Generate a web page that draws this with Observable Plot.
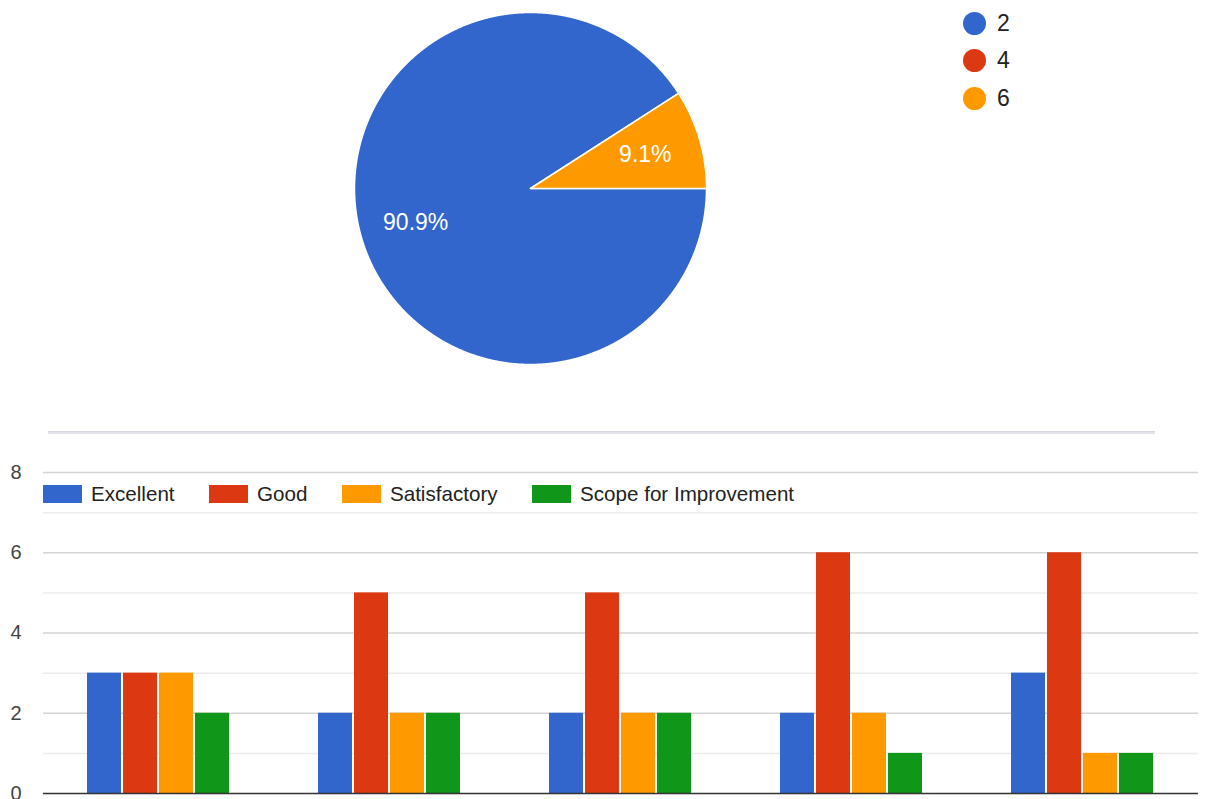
<!DOCTYPE html>
<html><head><meta charset="utf-8">
<script src="https://cdn.jsdelivr.net/npm/d3@7"></script>
<script src="https://cdn.jsdelivr.net/npm/@observablehq/plot@0.6"></script>
<style>
html,body{margin:0;padding:0;background:#fff;width:1213px;height:799px;overflow:hidden;font-family:Arial,"Liberation Sans",sans-serif;}
#pie{position:absolute;left:0;top:0;}
#bars{position:absolute;left:0;top:440px;}
#divider{position:absolute;left:48px;top:431px;width:1107px;height:3px;background:#e3e3ee;border-top:1px solid #d6d6e0;box-sizing:border-box;}
.pl{position:absolute;left:963px;height:24px;display:flex;align-items:center;font-size:23px;color:#222;}
.pl .dot{width:23px;height:23px;border-radius:50%;margin-right:11px;}
#barLegend{position:absolute;left:43px;top:484px;height:19px;display:flex;align-items:center;font-size:20.6px;color:#222;}
#barLegend .it{display:flex;align-items:center;margin-right:34.5px;}
#barLegend .sw{width:39px;height:18px;margin-right:9px;}
</style></head><body>
<div id="pie"></div>
<div id="pieLegend"></div>
<div id="divider"></div>
<div id="bars"></div>
<div id="barLegend"></div>
<script>
// ---- Data ----
const pieLabels = ["2", "4", "6"];
const pieValues = [10, 0, 1];
const pieColors = ["#3366cc", "#dc3912", "#ff9900"];

const groups = ["1", "2", "3", "4", "5"];
const series = ["Excellent", "Good", "Satisfactory", "Scope for Improvement"];
const excellent = [3, 2, 2, 2, 3];
const good = [3, 5, 5, 6, 6];
const satisfactory = [3, 2, 2, 2, 1];
const scope = [2, 2, 2, 1, 1];
const seriesColors = ["#3366cc", "#dc3912", "#ff9900", "#109618"];
const yTicks = [0, 2, 4, 6, 8];
const yMinor = [1, 3, 5, 7];

// ---- Pie ----
const total = d3.sum(pieValues);
const arcs = d3.pie().sort(null).startAngle(Math.PI / 2).endAngle(Math.PI / 2 + 2 * Math.PI)(pieValues);
const pts = [];
const lbl = [];
arcs.forEach((a, i) => {
  if (a.value <= 0) return;
  const k = pieLabels[i];
  pts.push({k, x: 0, y: 0});
  const n = Math.max(2, Math.ceil((a.endAngle - a.startAngle) / 0.004));
  for (let j = 0; j <= n; j++) {
    const t = a.startAngle + (a.endAngle - a.startAngle) * j / n;
    pts.push({k, x: Math.sin(t), y: Math.cos(t)});
  }
  const m = (a.startAngle + a.endAngle) / 2;
  lbl.push({x: 0.68 * Math.sin(m), y: 0.68 * Math.cos(m), t: (a.value / total * 100).toFixed(1) + "%"});
});

const pie = Plot.plot({
  width: 1213, height: 420,
  marginLeft: 354, marginRight: 507, marginTop: 12, marginBottom: 56,
  x: {domain: [-1, 1], axis: null},
  y: {domain: [-1, 1], axis: null},
  color: {domain: pieLabels, range: pieColors},
  style: {fontFamily: "Arial, 'Liberation Sans', sans-serif", background: "transparent"},
  marks: [
    Plot.line(pts, {x: "x", y: "y", z: "k", fill: "k", stroke: "white", strokeWidth: 1.5, curve: "linear-closed"}),
    Plot.text(lbl, {x: "x", y: "y", text: "t", fill: "white", fontSize: 23})
  ]
});
document.getElementById("pie").appendChild(pie);

const pl = document.getElementById("pieLegend");
pieLabels.forEach((l, i) => {
  const d = document.createElement("div");
  d.className = "pl";
  d.style.top = (11 + i * 37.5) + "px";
  d.innerHTML = `<span class="dot" style="background:${pieColors[i]}"></span><span>${l}</span>`;
  pl.appendChild(d);
});

// ---- Bars ----
const cols = [excellent, good, satisfactory, scope];
const barData = groups.flatMap((g, gi) => series.map((s, si) => ({group: g, series: s, value: cols[si][gi]})));

const bars = Plot.plot({
  width: 1213, height: 385,
  marginLeft: 43, marginRight: 15, marginTop: 32, marginBottom: 32,
  fx: {domain: groups, padding: 0, axis: null},
  x: {domain: series, axis: null, paddingInner: 0.045, paddingOuter: 1.2},
  y: {domain: [0, 8], axis: null},
  color: {domain: series, range: seriesColors},
  style: {fontFamily: "Arial, 'Liberation Sans', sans-serif", background: "transparent"},
  marks: [
    Plot.ruleY(yMinor, {stroke: "#ececec", strokeWidth: 1.5}),
    Plot.ruleY(yTicks.filter(d => d > 0), {stroke: "#d4d4d4", strokeWidth: 1.5}),
    Plot.barY(barData, {fx: "group", x: "series", y: "value", fill: "series"}),
    Plot.ruleY([0], {stroke: "#333", strokeWidth: 1.5}),
    Plot.axisY({ticks: yTicks, tickSize: 0, tickPadding: 22, fontSize: 20, color: "#444", label: null, tickFormat: d => String(d)})
  ]
});
document.getElementById("bars").appendChild(bars);

const bl = document.getElementById("barLegend");
series.forEach((s, i) => {
  const d = document.createElement("div");
  d.className = "it";
  d.innerHTML = `<span class="sw" style="background:${seriesColors[i]}"></span><span>${s}</span>`;
  bl.appendChild(d);
});
</script>
</body></html>
